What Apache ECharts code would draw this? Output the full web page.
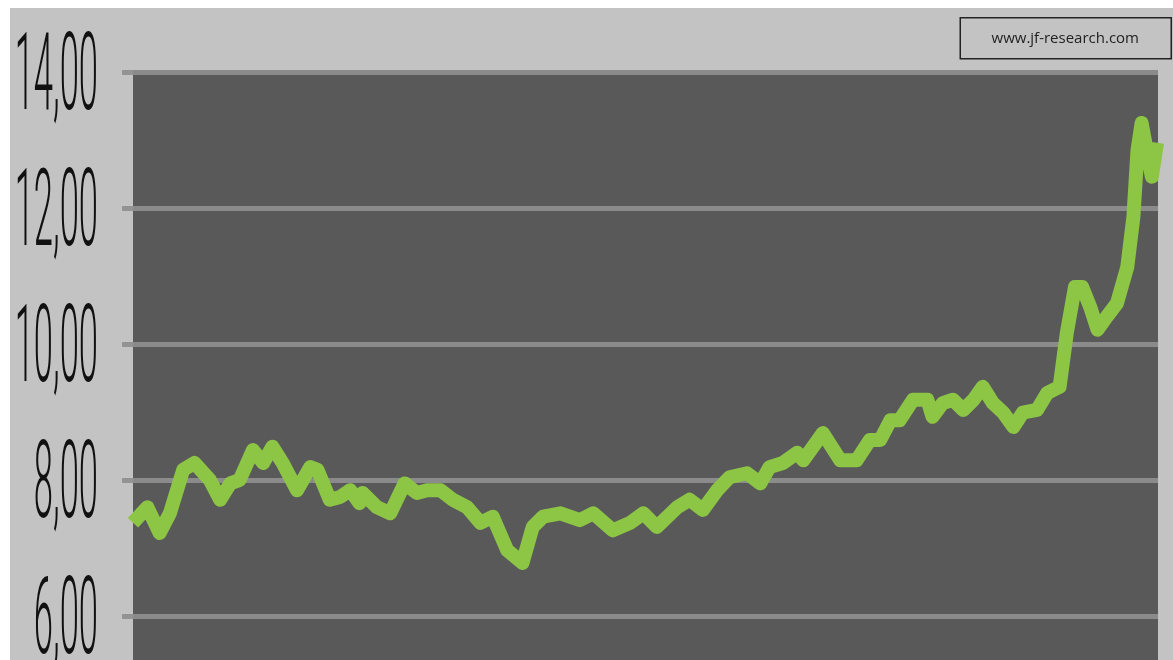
<!DOCTYPE html>
<html>
<head>
<meta charset="UTF-8">
<title>jf-research chart</title>
<script src="https://cdn.jsdelivr.net/npm/echarts@6/dist/echarts.min.js"></script>
<style>
  html, body { margin: 0; padding: 0; background: #fff; overflow: hidden; }
  /* the chart runs past the bottom of the window, as in the cropped original */
  #chart { position: absolute; left: 10px; top: 8px; width: 1163px; height: 744px; }
</style>
</head>
<body>
<div id="chart"></div>
<script>
// time position (0..100 across the plot) and price
var times = [0, 1.4, 2.6, 3.6, 4.9, 6.0, 7.5, 8.5, 9.5, 10.4, 11.7, 12.7, 13.6, 14.6, 16.0, 17.3, 18.0,
  19.2, 20.2, 21.2, 22.1, 22.4, 23.8, 25.1, 26.5, 27.7, 28.7, 30.0, 31.2, 32.6, 33.9, 35.1, 36.5,
  38.0, 39.0, 40.0, 41.7, 43.6, 44.9, 46.8, 48.5, 49.8, 51.1, 53.1, 54.3, 55.6, 57.0, 58.2, 59.9,
  61.2, 62.1, 63.4, 64.8, 65.4, 67.3, 69.0, 70.6, 71.9, 72.9, 73.9, 74.8, 76.1, 77.5, 78.0, 79.0,
  80.0, 81.0, 82.0, 82.9, 83.9, 84.9, 85.9, 86.8, 88.2, 89.2, 90.4, 91.1, 91.9, 92.6, 93.4, 94.1,
  95.0, 96.0, 97.0, 97.6, 98.0, 98.4, 98.9, 99.4, 99.9];
var prices = [7.37, 7.60, 7.22, 7.51, 8.15, 8.25, 8.00, 7.71, 7.95, 8.00, 8.44, 8.25, 8.49, 8.25, 7.85, 8.19, 8.15,
  7.71, 7.75, 7.85, 7.66, 7.81, 7.60, 7.51, 7.95, 7.81, 7.85, 7.85, 7.71, 7.60, 7.37, 7.46, 6.97,
  6.78, 7.31, 7.46, 7.51, 7.41, 7.51, 7.26, 7.37, 7.51, 7.31, 7.60, 7.71, 7.56, 7.85, 8.04, 8.10,
  7.95, 8.19, 8.25, 8.40, 8.29, 8.69, 8.29, 8.29, 8.59, 8.59, 8.88, 8.88, 9.18, 9.18, 8.93, 9.13,
  9.18, 9.03, 9.18, 9.37, 9.13, 8.99, 8.78, 8.99, 9.03, 9.28, 9.37, 10.16, 10.84, 10.84, 10.54, 10.21,
  10.40, 10.60, 11.13, 11.87, 12.85, 13.25, 12.85, 12.46, 12.96];
var yTicks = [4, 6, 8, 10, 12, 14];
var watermark = 'www.jf-research.com';

var data = [];
for (var i = 0; i < times.length; i++) {
  data.push([times[i], prices[i]]);
}

var myChart = echarts.init(document.getElementById('chart'));

var option = {
  backgroundColor: '#c3c3c3',
  animation: false,
  grid: {
    left: 123,
    top: 64,
    right: 15,
    bottom: 0,
    show: true,
    backgroundColor: '#595959',
    borderWidth: 0
  },
  xAxis: {
    type: 'value',
    min: 0,
    max: 100,
    show: false
  },
  yAxis: {
    type: 'value',
    min: 4,
    max: 14,
    interval: 2,
    axisLine: { show: false },
    axisTick: { show: true, length: 11, lineStyle: { color: '#939393', width: 5 } },
    axisLabel: { show: false },
    splitLine: { lineStyle: { color: '#8b8b8b', width: 5 } }
  },
  series: [{
    type: 'line',
    data: data,
    symbol: 'none',
    lineStyle: { color: '#8dc545', width: 14, join: 'round' }
  }]
};

myChart.setOption(option);

// squeezed tall tick labels, placed from the axis scale
var labels = [];
yTicks.forEach(function (v) {
  var py = myChart.convertToPixel({ yAxisIndex: 0 }, v);
  labels.push({
    type: 'text',
    x: 88,
    y: py + 10,
    scaleX: 0.32,
    scaleY: 1,
    silent: true,
    style: {
      text: v.toFixed(2).replace('.', ','),
      fontFamily: 'Roboto',
      fontWeight: 300,
      fontSize: 108,
      fill: '#111',
      align: 'right',
      verticalAlign: 'middle'
    }
  });
});

// watermark box
labels.push({
  type: 'group',
  right: 1,
  top: 9,
  children: [{
    type: 'rect',
    shape: { x: 0, y: 0, width: 211, height: 41 },
    style: { fill: '#c3c3c3', stroke: '#222', lineWidth: 1.5 }
  }, {
    type: 'text',
    x: 105,
    y: 21,
    style: {
      text: watermark,
      fontFamily: 'Open Sans',
      fontSize: 15,
      fill: '#222',
      align: 'center',
      verticalAlign: 'middle'
    }
  }]
});

myChart.setOption({ graphic: labels });
</script>
</body>
</html>
